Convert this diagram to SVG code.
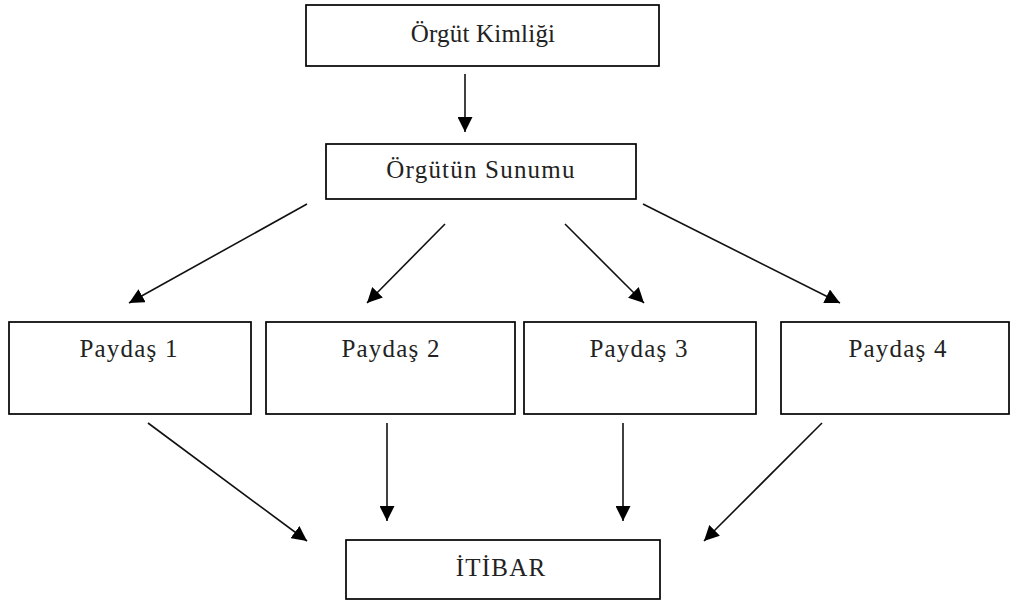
<svg xmlns="http://www.w3.org/2000/svg" width="1010" height="601" viewBox="0 0 1010 601">
<style>
.box{fill:#fff;stroke:#000;stroke-width:1.7}
.lbl{font-family:"Liberation Serif","Times New Roman",serif;font-size:25px;fill:#222;text-anchor:middle;letter-spacing:1.2px}
.con{stroke:#111;stroke-width:1.6;fill:none;marker-end:url(#ah)}
</style>
<defs>
<marker id="ah" markerUnits="userSpaceOnUse" markerWidth="16" markerHeight="15" refX="15" refY="7.5" orient="auto">
<path d="M0,0 L15,7.5 L0,15 z" fill="#000"/>
</marker>
</defs>
<rect width="1010" height="601" fill="#fff"/>
<g id="connectors">
<line class="con" x1="465" y1="74" x2="465" y2="132"/>
<line class="con" x1="307" y1="204" x2="129" y2="303"/>
<line class="con" x1="445" y1="224" x2="367" y2="303"/>
<line class="con" x1="565" y1="224" x2="644" y2="303"/>
<line class="con" x1="643" y1="204" x2="840" y2="303"/>
<line class="con" x1="148" y1="423" x2="307" y2="541"/>
<line class="con" x1="387" y1="423" x2="387" y2="521"/>
<line class="con" x1="623" y1="423" x2="623" y2="521"/>
<line class="con" x1="822" y1="423" x2="704" y2="541"/>
</g>
<g id="orgut-kimligi"><rect class="box" x="306" y="5" width="353" height="61"/><text class="lbl" x="483" y="42" style="letter-spacing:0.2px">Örgüt Kimliği</text></g>
<g id="orgutun-sunumu"><rect class="box" x="326" y="144" width="310" height="55"/><text class="lbl" x="481" y="178">Örgütün Sunumu</text></g>
<g id="paydas1"><rect class="box" x="9" y="322" width="242" height="92"/><text class="lbl" x="129" y="357">Paydaş 1</text></g>
<g id="paydas2"><rect class="box" x="266" y="322" width="249" height="92"/><text class="lbl" x="391" y="357">Paydaş 2</text></g>
<g id="paydas3"><rect class="box" x="524" y="322" width="232" height="92"/><text class="lbl" x="639" y="357">Paydaş 3</text></g>
<g id="paydas4"><rect class="box" x="781" y="322" width="228" height="92"/><text class="lbl" x="898" y="357">Paydaş 4</text></g>
<g id="itibar"><rect class="box" x="346" y="540" width="314" height="59"/><text class="lbl" x="501" y="576">İTİBAR</text></g>
</svg>
